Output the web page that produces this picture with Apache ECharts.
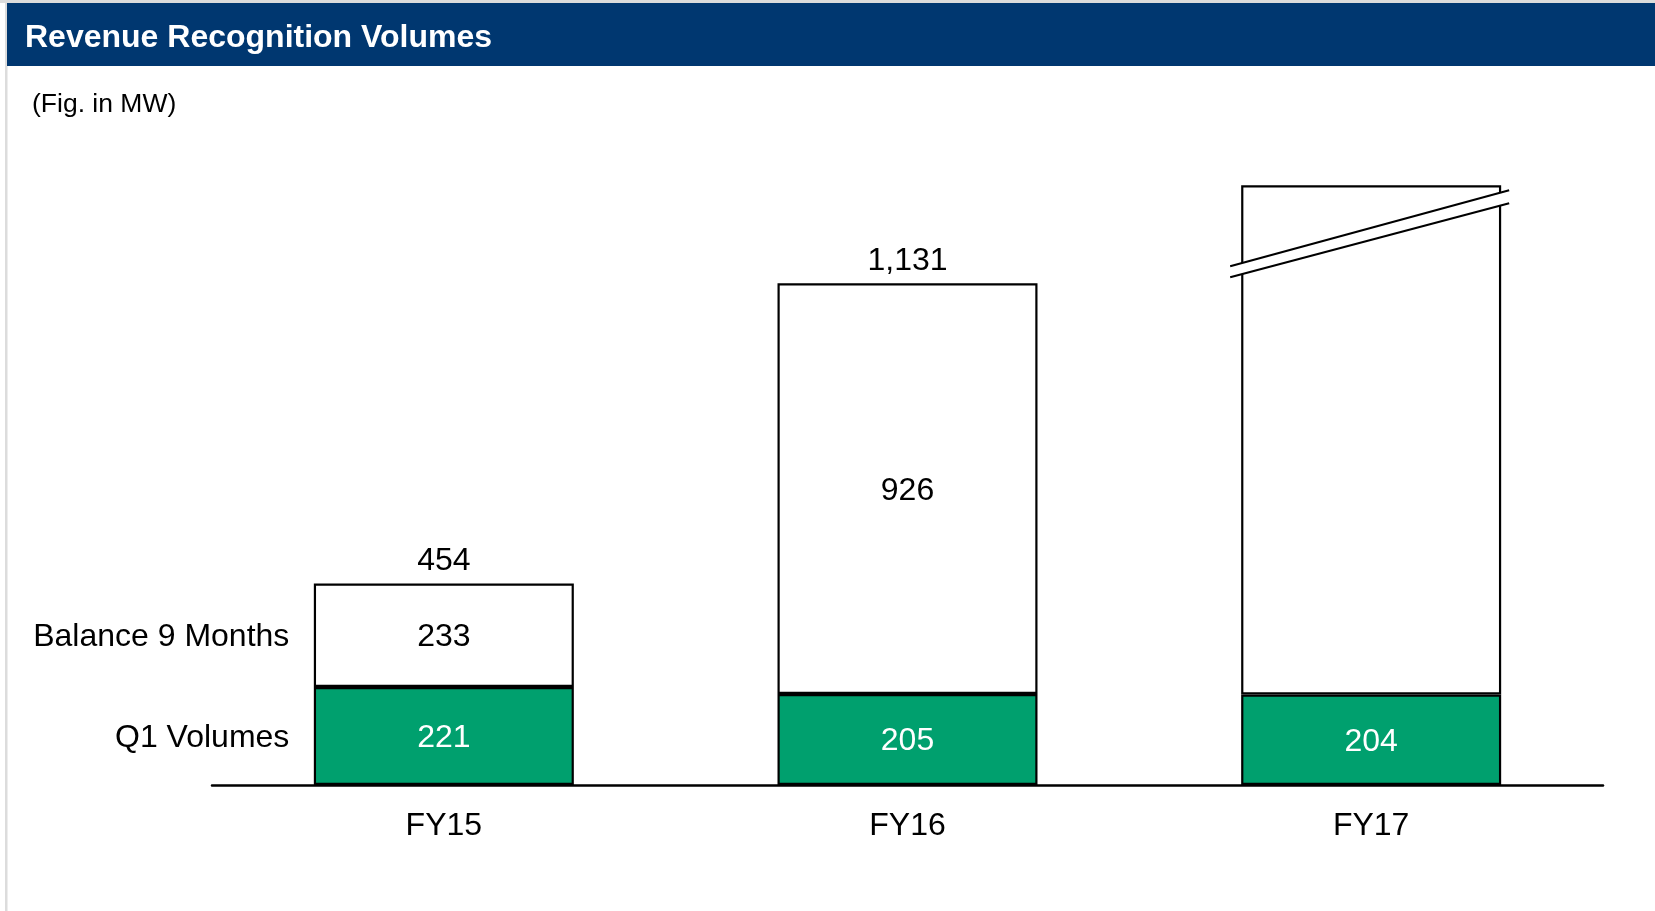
<!DOCTYPE html>
<html lang="en">

<head>
    <meta charset="UTF-8">
    <meta name="viewport" content="width=device-width, initial-scale=1.0">
    <script src="https://cdn.jsdelivr.net/npm/echarts@6/dist/echarts.min.js"></script>
    <title>Revenue Recognition Volumes</title>
    <style>
        html,
        body {
            margin: 0;
            padding: 0;
            background: #fff;
        }

        #main {
            width: 1655px;
            height: 911px;
        }
    </style>
</head>

<body>
    <div id="main"></div>

    <script>
        // data
        var categories = ['FY15', 'FY16', 'FY17'];
        var q1Volumes = [221, 205, 204];
        var balance9Months = [233, 926, 1148]; // FY17 bar is drawn broken, height estimated
        var totals = [454, 1131, null];        // FY17 has no total shown
        var seriesNames = ['Q1 Volumes', 'Balance 9 Months'];

        var font = '"Liberation Sans", Arial, sans-serif';
        var green = '#00A06E';
        var navy = '#003770';
        var barWidth = 260;
        var fs = 32;

        var myChart = echarts.init(document.getElementById('main'));

        var option = {
            animation: false,
            textStyle: { fontFamily: font },
            title: [{
                text: 'Revenue Recognition Volumes',
                left: 25,
                top: 22,
                padding: 0,
                textStyle: { color: '#fff', fontSize: 32, fontWeight: 'bold', fontFamily: font }
            }, {
                text: '(Fig. in MW)',
                left: 32,
                top: 91,
                padding: 0,
                textStyle: { color: '#000', fontSize: 26.5, fontWeight: 'normal', fontFamily: font }
            }],
            grid: { left: 212, right: 52, top: 164, bottom: 126 },
            xAxis: {
                type: 'category',
                data: categories,
                axisLine: { lineStyle: { color: '#000', width: 2.5 } },
                axisTick: { show: false },
                axisLabel: { fontSize: fs, color: '#000', margin: 25, fontFamily: font }
            },
            yAxis: { type: 'value', min: 0, max: 1400, show: false },
            series: [{
                name: seriesNames[0],
                type: 'bar',
                stack: 'vol',
                barWidth: barWidth,
                data: q1Volumes,
                itemStyle: { color: green, borderColor: '#000', borderWidth: 2.2 },
                label: { show: true, position: 'inside', offset: [0, 2], color: '#fff', fontSize: fs, fontFamily: font },
                markPoint: {
                    symbol: 'rect',
                    symbolSize: 1,
                    itemStyle: { color: 'rgba(0,0,0,0)' },
                    label: { show: true, position: 'left', distance: 154, offset: [0, 2], formatter: '{b}', color: '#000', fontSize: fs, fontFamily: font },
                    data: [{ name: seriesNames[0], coord: [categories[0], q1Volumes[0] / 2] }]
                }
            }, {
                name: seriesNames[1],
                type: 'bar',
                stack: 'vol',
                barWidth: barWidth,
                data: balance9Months,
                itemStyle: { color: '#fff', borderColor: '#000', borderWidth: 2.2 },
                label: {
                    show: true,
                    position: 'inside',
                    offset: [0, 2],
                    color: '#000',
                    fontSize: fs,
                    fontFamily: font,
                    formatter: function (p) {
                        return totals[p.dataIndex] == null ? '' : p.value;
                    }
                },
                markPoint: {
                    symbol: 'rect',
                    symbolSize: 1,
                    itemStyle: { color: 'rgba(0,0,0,0)' },
                    label: { show: true, position: 'left', distance: 154, offset: [0, 2], formatter: '{b}', color: '#000', fontSize: fs, fontFamily: font },
                    data: [{ name: seriesNames[1], coord: [categories[0], q1Volumes[0] + balance9Months[0] / 2] }]
                }
            }, {
                name: 'Total',
                type: 'scatter',
                symbolSize: 0,
                itemStyle: { opacity: 1 },
                data: totals.map(function (v) { return v == null ? '-' : v; }),
                label: {
                    show: true,
                    position: 'top',
                    distance: 6,
                    color: '#000',
                    fontSize: fs,
                    fontFamily: font,
                    formatter: function (p) {
                        return p.value.toLocaleString('en-US');
                    }
                }
            }]
        };

        myChart.setOption(option);

        // frame, header band and the break on the FY17 bar
        var top17 = myChart.convertToPixel({ gridIndex: 0 }, [categories[2], q1Volumes[2] + balance9Months[2]]);
        var cx = top17[0], ty = top17[1], hw = barWidth / 2;
        var upL = [cx - hw - 11, ty + 81], upR = [cx + hw + 8, ty + 5];
        var loL = [cx - hw - 11, ty + 92], loR = [cx + hw + 8, ty + 18];

        myChart.setOption({
            graphic: [{
                type: 'rect',
                z: -10,
                shape: { x: 0, y: 0, width: 1655, height: 3 },
                style: { fill: '#dcdcdc' }
            }, {
                type: 'rect',
                z: -10,
                shape: { x: 5, y: 0, width: 2.5, height: 911 },
                style: { fill: '#dcdcdc' }
            }, {
                type: 'rect',
                z: -5,
                shape: { x: 7, y: 3, width: 1648, height: 63 },
                style: { fill: navy }
            }, {
                type: 'polygon',
                z: 100,
                shape: { points: [upL, upR, loR, loL] },
                style: { fill: '#fff' }
            }, {
                type: 'polyline',
                z: 101,
                shape: { points: [upL, upR] },
                style: { stroke: '#000', lineWidth: 2.2, fill: null }
            }, {
                type: 'polyline',
                z: 101,
                shape: { points: [loL, loR] },
                style: { stroke: '#000', lineWidth: 2.2, fill: null }
            }]
        });
    </script>
</body>

</html>
